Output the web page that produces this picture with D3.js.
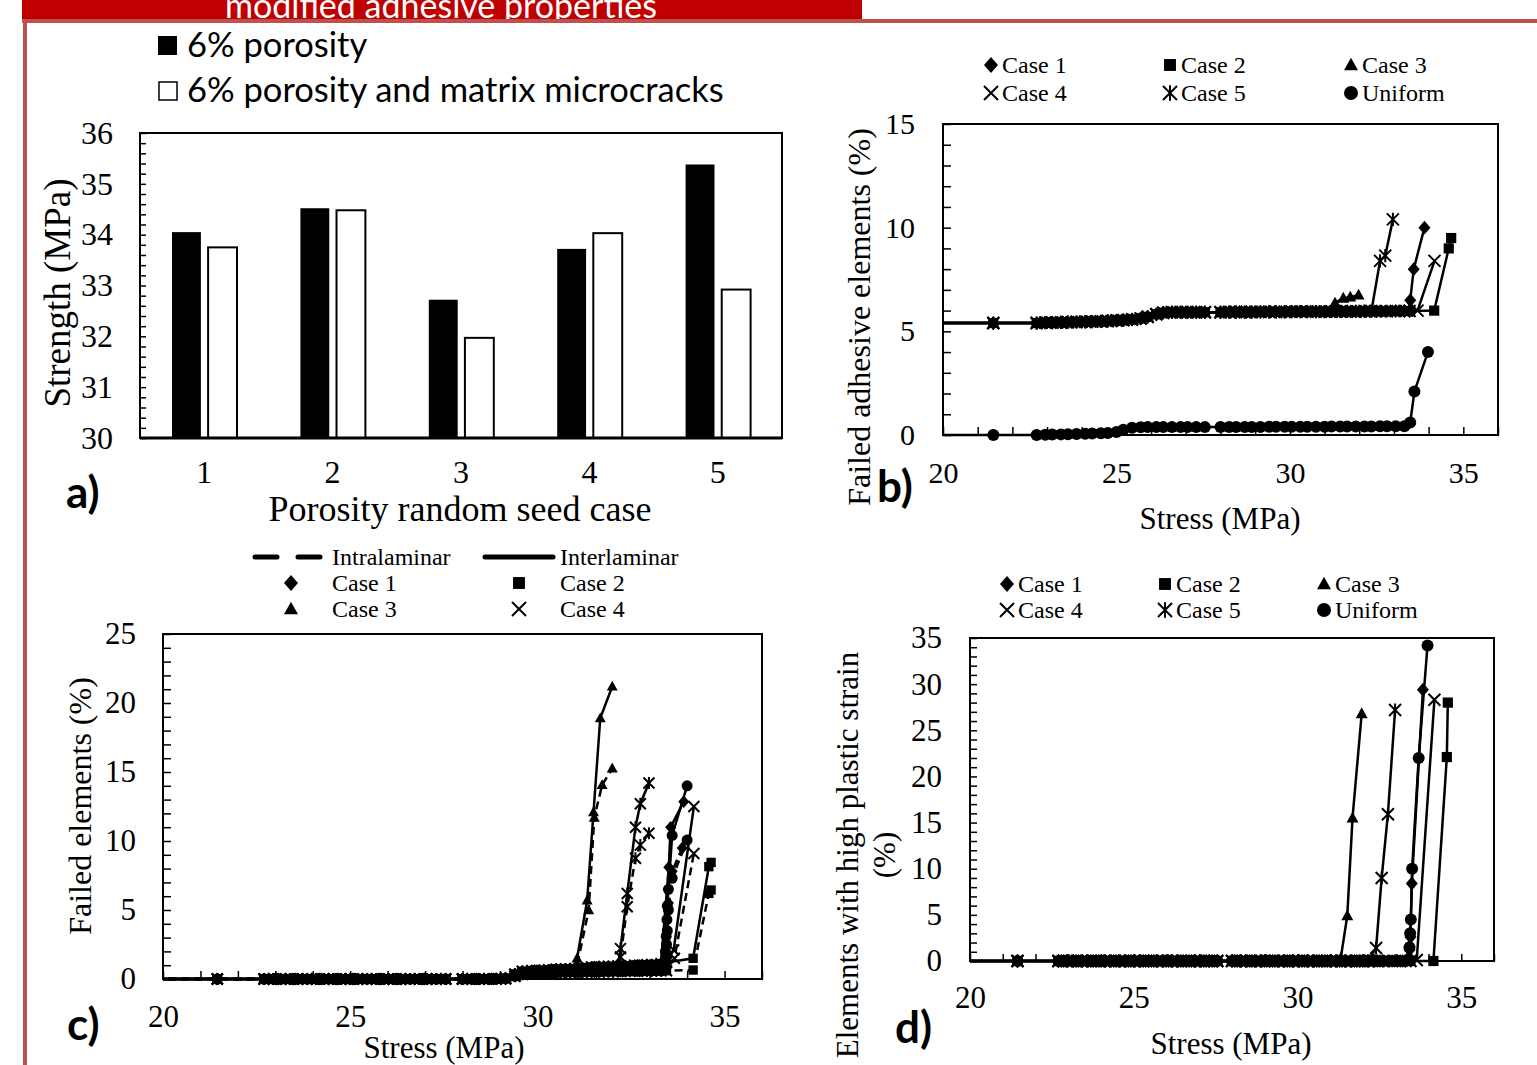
<!DOCTYPE html>
<html>
<head>
<meta charset="utf-8">
<script src="https://d3js.org/d3.v7.min.js"></script>
<style>
body { margin: 0; background: #fff; }
svg { font-family: "Liberation Serif", "Times New Roman", serif; }
.frame { fill: none; stroke: #000; stroke-width: 2; }
.sans { font-family: Lato, "Open Sans", sans-serif; }
</style>
</head>
<body>
<div id="root"></div>
<script>
/* ---- panel a : bar chart ---- */
var seedCases = ["1", "2", "3", "4", "5"];
var strengthPorosity = [34.05, 34.52, 32.72, 33.72, 35.38];
var strengthPorosityCracks = [33.75, 34.48, 31.97, 34.03, 32.92];
var strengthTicks = [30, 31, 32, 33, 34, 35, 36];

/* ---- shared load steps (MPa) for b, c, d ---- */
var stressSteps = [0, 21.45, 22.7, 22.95, 23.15, 23.4, 23.6, 23.85, 24.1, 24.3, 24.55, 24.75,
  25.0, 25.2, 25.45, 25.7, 25.9, 26.15, 26.35, 26.6, 26.85, 27.05, 27.3, 27.55,
  28.0, 28.25, 28.45, 28.7, 28.9, 29.15, 29.4, 29.6, 29.85, 30.05, 30.3, 30.5, 30.75,
  31.0, 31.2, 31.45, 31.65, 31.9, 32.15, 32.35, 32.6, 32.8, 33.05, 33.3, 33.45];
var stressTicks = [20, 25, 30, 35];

/* ---- panel b : failed adhesive elements (%) ---- */
var bCasesBase = [5.4, 5.4, 5.4, 5.42, 5.42, 5.43, 5.44, 5.45, 5.46, 5.47, 5.48, 5.5,
  5.52, 5.54, 5.57, 5.62, 5.7, 5.82, 5.9, 5.92, 5.92, 5.92, 5.92, 5.92,
  5.92, 5.93, 5.93, 5.93, 5.93, 5.94, 5.94, 5.94, 5.94, 5.95, 5.95, 5.95, 5.95,
  5.95, 5.96, 5.96, 5.96, 5.96, 5.97, 5.97, 5.97, 5.97, 5.98, 5.98, 5.98];
var bUniformBase = [0, 0, 0, 0.01, 0.02, 0.03, 0.04, 0.05, 0.06, 0.07, 0.08, 0.1,
  0.15, 0.25, 0.35, 0.37, 0.38, 0.38, 0.38, 0.38, 0.38, 0.38, 0.38, 0.38,
  0.39, 0.39, 0.39, 0.39, 0.39, 0.39, 0.4, 0.4, 0.4, 0.4, 0.4, 0.4, 0.4,
  0.4, 0.41, 0.41, 0.41, 0.41, 0.41, 0.41, 0.42, 0.42, 0.42, 0.42, 0.45];
var bCase1Tail = [[33.47, 6.5], [33.57, 8.0], [33.88, 10.0]];
var bCase2Tail = [[34.16, 6.0], [34.58, 9.0], [34.65, 9.5]];
var bCase3Tail = [[31.3, 6.37], [31.54, 6.6], [31.74, 6.65], [31.98, 6.75]];
var bCase4Tail = [[33.68, 6.0], [34.17, 8.4]];
var bCase5Tail = [[32.6, 8.4], [32.75, 8.65], [32.97, 10.4]];
var bUniformTail = [[33.47, 0.6], [33.59, 2.1], [33.98, 4.0]];

/* ---- panel c : failed elements (%), interlaminar solid / intralaminar dashed ---- */
var cInterBase = [0, 0, 0, 0, 0, 0, 0, 0, 0, 0, 0, 0,
  0, 0, 0, 0, 0, 0, 0, 0, 0, 0, 0, 0,
  0, 0, 0, 0, 0.02, 0.05, 0.35, 0.55, 0.6, 0.62, 0.65, 0.7, 0.72,
  0.75, 0.8, 0.85, 0.88, 0.9, 0.92, 0.95, 1.0, 1.02, 1.05, 1.1, 1.2];
var cIntraBase = [0, 0, 0, 0, 0, 0, 0, 0, 0, 0, 0, 0,
  0, 0, 0, 0, 0, 0, 0, 0, 0, 0, 0, 0,
  0, 0, 0, 0, 0, 0.02, 0.2, 0.35, 0.4, 0.42, 0.44, 0.46, 0.48,
  0.5, 0.5, 0.52, 0.52, 0.54, 0.55, 0.55, 0.56, 0.57, 0.58, 0.59, 0.6];
var cCase1Inter = [[33.51, 8.1], [33.56, 11.0], [33.91, 12.85]];
var cCase1Intra = [[33.5, 5.5], [33.6, 7.8], [33.87, 9.5]];
var cCase2Inter = [[34.16, 1.5], [34.58, 8.14], [34.64, 8.45]];
var cCase2Intra = [[34.16, 0.65], [34.58, 6.2], [34.64, 6.45]];
var cCase3Inter = [[31.06, 1.5], [31.33, 5.7], [31.5, 12.1], [31.68, 18.9], [32.0, 21.2]];
var cCase3Intra = [[31.06, 1.0], [31.37, 5.0], [31.52, 11.7], [31.73, 14.06], [32.0, 15.27]];
var cCase4Inter = [[33.64, 2.1], [34.18, 12.5]];
var cCase4Intra = [[33.66, 1.5], [34.18, 9.1]];
var cCase5Inter = [[32.22, 2.2], [32.4, 6.2], [32.62, 11.0], [32.75, 12.7], [32.98, 14.2]];
var cCase5Intra = [[32.22, 1.6], [32.4, 5.24], [32.62, 8.75], [32.75, 9.7], [32.98, 10.56]];
var cUniformInter = [[33.42, 2.0], [33.44, 3.1], [33.46, 4.3], [33.47, 5.3], [33.5, 6.5], [33.6, 10.4], [34.0, 14.0]];
var cUniformIntra = [[33.42, 1.5], [33.45, 2.5], [33.47, 3.5], [33.5, 5.0], [33.6, 7.3], [34.0, 10.07]];

/* ---- panel d : elements with high plastic strain (%) ---- */
var dBase = [0, 0, 0, 0, 0, 0, 0, 0, 0, 0, 0, 0,
  0, 0, 0, 0, 0, 0, 0, 0, 0, 0, 0, 0,
  0, 0, 0, 0, 0, 0, 0, 0, 0, 0, 0, 0, 0,
  0, 0, 0, 0, 0, 0, 0, 0, 0, 0, 0, 0];
var dCase1Tail = [[33.42, 1.2], [33.45, 2.6], [33.49, 8.4], [33.83, 29.4]];
var dCase2Tail = [[34.15, 0], [34.56, 22.1], [34.59, 28.0]];
var dCase3Tail = [[31.32, 0.3], [31.52, 4.9], [31.68, 15.5], [31.96, 26.8]];
var dCase4Tail = [[33.64, 0.1], [34.18, 28.3]];
var dCase5Tail = [[32.4, 1.4], [32.57, 9.0], [32.76, 15.9], [32.98, 27.2]];
var dUniformTail = [[33.42, 1.5], [33.44, 3.0], [33.46, 4.5], [33.5, 10.0], [33.7, 22.0], [33.97, 34.2]];

var caseNames = ["Case 1", "Case 2", "Case 3", "Case 4", "Case 5", "Uniform"];
var caseShapes = ["diamond", "square", "triangle", "x", "star", "circle"];

/* base curve up to the stress where a case departs, then its own points */
function withBase(base, leave, tail) {
  return stressSteps.map((s, i) => [s, base[i]]).filter(d => d[0] <= leave).concat(tail);
}

function markerPath(shape, r) {
  if (shape == "x") return `M${-r},${-r}L${r},${r}M${-r},${r}L${r},${-r}`;
  if (shape == "star") return `M${-r},${-r}L${r},${r}M${-r},${r}L${r},${-r}M0,${-r * 1.1}L0,${r * 1.1}`;
  if (shape == "diamond") return `M0,${-r * 1.15}L${r},0L0,${r * 1.15}L${-r},0Z`;
  if (shape == "square") return `M${-r * 0.85},${-r * 0.85}h${r * 1.7}v${r * 1.7}h${-r * 1.7}Z`;
  if (shape == "triangle") return `M0,${-r * 1.05}L${r},${r * 0.75}L${-r},${r * 0.75}Z`;
  return d3.symbol(d3.symbolCircle, Math.PI * r * r)();
}

function addMarker(g, shape, r) {
  var stroked = shape == "x" || shape == "star";
  return g.append("path")
    .attr("d", markerPath(shape, r))
    .attr("fill", stroked ? "none" : "#000")
    .attr("stroke", stroked ? "#000" : "none")
    .attr("stroke-width", 2);
}

function drawSeries(g, x, y, pts, shape, dashed, r) {
  var line = d3.line().x(d => x(d[0])).y(d => y(d[1]));
  g.append("path").datum(pts)
    .attr("d", line)
    .attr("fill", "none")
    .attr("stroke", "#000")
    .attr("stroke-width", 2.5)
    .attr("stroke-dasharray", dashed ? "8,5" : null);
  g.selectAll(null).data(pts).enter()
    .append("g")
    .attr("transform", d => `translate(${x(d[0])},${y(d[1])})`)
    .each(function() { addMarker(d3.select(this), shape, r); });
}

var svg = d3.select("#root").append("svg")
  .attr("width", 1537)
  .attr("height", 1065);

/* red slide decoration */
svg.append("rect").attr("x", 22).attr("y", 0).attr("width", 840).attr("height", 21).attr("fill", "#c00000");
svg.append("text").attr("class", "sans").attr("x", 441).attr("y", 18)
  .attr("text-anchor", "middle").attr("fill", "#fff").attr("font-size", 34)
  .text("modified adhesive properties");
svg.append("line").attr("x1", 22).attr("x2", 1537).attr("y1", 21).attr("y2", 21)
  .attr("stroke", "#c0504d").attr("stroke-width", 4);
svg.append("line").attr("x1", 25).attr("x2", 25).attr("y1", 19).attr("y2", 1065)
  .attr("stroke", "#c0504d").attr("stroke-width", 4);

/* generic axes: frame, labels, inward ticks */
function axes(x, y, o) {
  var g = svg.append("g");
  var x0 = x.range()[0], x1 = x.range()[1], y0 = y.range()[0], y1 = y.range()[1];
  g.append("rect").attr("class", "frame")
    .attr("x", x0).attr("y", y1).attr("width", x1 - x0).attr("height", y0 - y1);

  var ya = g.append("g").attr("transform", `translate(${x0},0)`)
    .call(d3.axisLeft(y).tickValues(o.yLabels).tickSize(0).tickPadding(o.yPad).tickFormat(d => d));
  ya.select(".domain").remove();
  ya.attr("font-size", o.fs).attr("font-family", null);

  var yt = g.append("g").attr("transform", `translate(${x0},0)`)
    .call(d3.axisLeft(y).tickValues(o.yMinor).tickSize(-o.tick).tickFormat(""));
  yt.select(".domain").remove();
  yt.selectAll("line").attr("stroke-width", 1.5);

  if (o.xLabels) {
    var xa = g.append("g").attr("transform", `translate(0,${y0})`)
      .call(d3.axisBottom(x).tickValues(o.xLabels).tickSize(0).tickPadding(o.xPad));
    xa.select(".domain").remove();
    xa.attr("font-size", o.fs).attr("font-family", null);
  }
  if (o.xMinor) {
    var xt = g.append("g").attr("transform", `translate(0,${y0})`)
      .call(d3.axisBottom(x).tickValues(o.xMinor).tickSize(-o.tick).tickFormat(""));
    xt.select(".domain").remove();
    xt.selectAll("line").attr("stroke-width", 1.5);
  }
  return g;
}

function title(x, y, txt, fs, rot) {
  svg.append("text")
    .attr("transform", `translate(${x},${y})` + (rot ? " rotate(-90)" : ""))
    .attr("text-anchor", "middle").attr("dy", "0.35em")
    .attr("font-size", fs).text(txt);
}

function panelLabel(x, y, txt) {
  svg.append("text").attr("class", "sans").attr("x", x).attr("y", y)
    .attr("font-size", 44).attr("font-weight", "bold").text(txt);
}

/* plot area clip (lets markers on the bottom/right edge show in full) */
function clipGroup(id, x, y) {
  svg.append("clipPath").attr("id", id).append("rect")
    .attr("x", x.range()[0]).attr("y", y.range()[1] - 12)
    .attr("width", x.range()[1] - x.range()[0] + 12)
    .attr("height", y.range()[0] - y.range()[1] + 24);
  return svg.append("g").attr("clip-path", `url(#${id})`);
}

/* ================= panel a ================= */
var xa = d3.scaleBand().domain(seedCases).range([140, 782]);
var xaInner = d3.scaleBand().domain(["p", "pc"]).range([32, 97]).paddingInner(0.2);
var ya = d3.scaleLinear().domain([30, 36]).range([438, 133]);

var barsA = svg.append("g");
barsA.selectAll(".bp").data(strengthPorosity).enter().append("rect")
  .attr("x", (d, i) => xa(seedCases[i]) + xaInner("p"))
  .attr("y", d => ya(d))
  .attr("width", xaInner.bandwidth())
  .attr("height", d => ya(30) - ya(d))
  .attr("fill", "#000");
barsA.selectAll(".bc").data(strengthPorosityCracks).enter().append("rect")
  .attr("x", (d, i) => xa(seedCases[i]) + xaInner("pc"))
  .attr("y", d => ya(d))
  .attr("width", xaInner.bandwidth())
  .attr("height", d => ya(30) - ya(d))
  .attr("fill", "#fff").attr("stroke", "#000").attr("stroke-width", 2);

axes(xa, ya, {
  yLabels: strengthTicks, yMinor: d3.range(30, 36.01, 0.2), yPad: 27, tick: 6, fs: 32,
  xLabels: seedCases, xPad: 22
});
svg.append("line").attr("x1", 140).attr("x2", 782).attr("y1", 438).attr("y2", 438)
  .attr("stroke", "#000").attr("stroke-width", 3);
title(57, 293, "Strength (MPa)", 37, true);
title(460, 508, "Porosity random seed case", 36, false);
panelLabel(66, 508, "a)");

var legA = svg.append("g").attr("class", "sans").attr("font-size", 34.5);
legA.append("rect").attr("x", 158).attr("y", 36).attr("width", 19).attr("height", 19).attr("fill", "#000");
legA.append("text").attr("x", 187).attr("y", 57).text("6% porosity");
legA.append("rect").attr("x", 159).attr("y", 82).attr("width", 18).attr("height", 18)
  .attr("fill", "#fff").attr("stroke", "#000").attr("stroke-width", 1.5);
legA.append("text").attr("x", 187).attr("y", 102).text("6% porosity and matrix microcracks");

/* legend used by b and d */
function caseLegend(xs, ys) {
  var lg = svg.append("g").attr("font-size", 24);
  caseNames.forEach(function(name, i) {
    var cx = xs[i % 3], cy = ys[Math.floor(i / 3)];
    addMarker(lg.append("g").attr("transform", `translate(${cx},${cy})`), caseShapes[i], 7);
    lg.append("text").attr("x", cx + 11).attr("y", cy + 8).text(name);
  });
}

/* ================= panel b ================= */
var xb = d3.scaleLinear().domain([20, 36]).range([943, 1498]);
var yb = d3.scaleLinear().domain([0, 15]).range([435, 124]);
axes(xb, yb, {
  yLabels: [0, 5, 10, 15], yMinor: d3.range(0, 16, 1), yPad: 28, tick: 8, fs: 30,
  xLabels: stressTicks, xMinor: d3.range(20, 37, 1), xPad: 27
});
var plotB = clipGroup("clipB", xb, yb);
var bLeave = [33.45, 33.45, 31.2, 33.45, 32.35, 33.3];
var bTails = [bCase1Tail, bCase2Tail, bCase3Tail, bCase4Tail, bCase5Tail, bUniformTail];
bTails.forEach(function(tail, i) {
  var base = i == 5 ? bUniformBase : bCasesBase;
  drawSeries(plotB, xb, yb, withBase(base, bLeave[i], tail), caseShapes[i], false, 6);
});
title(859, 317, "Failed adhesive elements (%)", 32, true);
title(1220, 518, "Stress (MPa)", 31, false);
panelLabel(877, 502, "b)");
caseLegend([991, 1170, 1351], [65, 93]);

/* ================= panel c ================= */
var xc = d3.scaleLinear().domain([20, 36]).range([163, 762]);
var yc = d3.scaleLinear().domain([0, 25]).range([979, 634]);
axes(xc, yc, {
  yLabels: [0, 5, 10, 15, 20, 25], yMinor: d3.range(0, 26, 1), yPad: 27, tick: 8, fs: 31,
  xLabels: stressTicks, xMinor: d3.range(20, 37, 1), xPad: 26
});
var plotC = clipGroup("clipC", xc, yc);
var cLeave = [33.4, 33.45, 31.0, 33.45, 32.15, 33.3];
var cInter = [cCase1Inter, cCase2Inter, cCase3Inter, cCase4Inter, cCase5Inter, cUniformInter];
var cIntra = [cCase1Intra, cCase2Intra, cCase3Intra, cCase4Intra, cCase5Intra, cUniformIntra];
cIntra.forEach(function(tail, i) {
  drawSeries(plotC, xc, yc, withBase(cIntraBase, cLeave[i], tail), caseShapes[i], true, 5.5);
});
cInter.forEach(function(tail, i) {
  drawSeries(plotC, xc, yc, withBase(cInterBase, cLeave[i], tail), caseShapes[i], false, 5.5);
});
title(80, 806, "Failed elements (%)", 32, true);
title(444, 1047, "Stress (MPa)", 31, false);
panelLabel(67, 1040, "c)");

var legC = svg.append("g").attr("font-size", 24);
legC.append("line").attr("x1", 255).attr("x2", 320).attr("y1", 557).attr("y2", 557)
  .attr("stroke", "#000").attr("stroke-width", 5).attr("stroke-dasharray", "22,21").attr("stroke-linecap", "round");
legC.append("text").attr("x", 332).attr("y", 565).text("Intralaminar");
legC.append("line").attr("x1", 485).attr("x2", 553).attr("y1", 557).attr("y2", 557)
  .attr("stroke", "#000").attr("stroke-width", 5).attr("stroke-linecap", "round");
legC.append("text").attr("x", 560).attr("y", 565).text("Interlaminar");
[[0, 291, 583, 332], [1, 519, 583, 560], [2, 291, 609, 332], [3, 519, 609, 560]].forEach(function(p) {
  addMarker(legC.append("g").attr("transform", `translate(${p[1]},${p[2]})`), caseShapes[p[0]], 7);
  legC.append("text").attr("x", p[3]).attr("y", p[2] + 8).text(caseNames[p[0]]);
});

/* ================= panel d ================= */
var xd = d3.scaleLinear().domain([20, 36]).range([970, 1494]);
var yd = d3.scaleLinear().domain([0, 35]).range([961, 638]);
axes(xd, yd, {
  yLabels: [0, 5, 10, 15, 20, 25, 30, 35], yMinor: d3.range(0, 36, 1), yPad: 28, tick: 7, fs: 31,
  xLabels: stressTicks, xMinor: d3.range(20, 37, 1), xPad: 25
});
var plotD = clipGroup("clipD", xd, yd);
var dLeave = [33.3, 33.45, 31.2, 33.45, 32.2, 33.3];
var dTails = [dCase1Tail, dCase2Tail, dCase3Tail, dCase4Tail, dCase5Tail, dUniformTail];
dTails.forEach(function(tail, i) {
  drawSeries(plotD, xd, yd, withBase(dBase, dLeave[i], tail), caseShapes[i], false, 6);
});
title(847, 855, "Elements with high plastic strain", 31, true);
title(884, 855, "(%)", 31, true);
title(1231, 1043, "Stress (MPa)", 31, false);
panelLabel(895, 1043, "d)");
caseLegend([1007, 1165, 1324], [584, 610]);
</script>
</body>
</html>
